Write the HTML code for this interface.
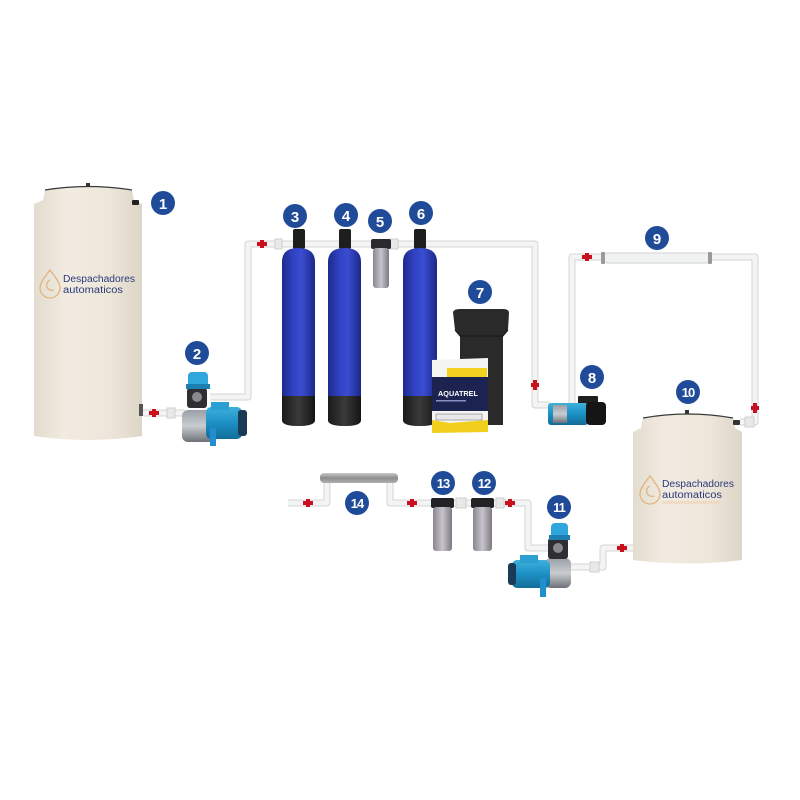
<!DOCTYPE html>
<html><head><meta charset="utf-8"><style>
html,body{margin:0;padding:0;background:#fff;width:800px;height:800px;overflow:hidden}
svg{display:block}
.b{fill:#1f4b98}
.n{fill:#fff;font-family:"Liberation Sans",sans-serif;font-weight:bold;font-size:15px;text-anchor:middle}
.logo{font-family:"Liberation Sans",sans-serif;fill:#2b3a78;font-size:10px}
</style></head><body>
<svg width="800" height="800" viewBox="0 0 800 800" xmlns="http://www.w3.org/2000/svg">
<defs>
<linearGradient id="tank" x1="0" x2="1" y1="0" y2="0">
<stop offset="0" stop-color="#e3dccf"/><stop offset="0.3" stop-color="#f1ebe1"/><stop offset="0.7" stop-color="#ede6da"/><stop offset="1" stop-color="#ddd5c7"/>
</linearGradient>
<linearGradient id="blue" x1="0" x2="1" y1="0" y2="0">
<stop offset="0" stop-color="#1d2a8c"/><stop offset="0.35" stop-color="#3143c4"/><stop offset="0.6" stop-color="#3a4dd0"/><stop offset="1" stop-color="#1b2787"/>
</linearGradient>
<linearGradient id="blk" x1="0" x2="1" y1="0" y2="0">
<stop offset="0" stop-color="#1a1a1a"/><stop offset="0.5" stop-color="#3a3a3a"/><stop offset="1" stop-color="#151515"/>
</linearGradient>
<linearGradient id="pb" x1="0" x2="0" y1="0" y2="1">
<stop offset="0" stop-color="#3fb0dc"/><stop offset="0.5" stop-color="#1c8fc4"/><stop offset="1" stop-color="#136d98"/>
</linearGradient>
<linearGradient id="gr" x1="0" x2="0" y1="0" y2="1">
<stop offset="0" stop-color="#9aa0a6"/><stop offset="0.5" stop-color="#c9cdd1"/><stop offset="1" stop-color="#6d7278"/>
</linearGradient>
<linearGradient id="flt" x1="0" x2="1" y1="0" y2="0">
<stop offset="0" stop-color="#8a8690"/><stop offset="0.5" stop-color="#c8c4cc"/><stop offset="1" stop-color="#7d7982"/>
</linearGradient>
<linearGradient id="uv" x1="0" x2="0" y1="0" y2="1">
<stop offset="0" stop-color="#c9c9c9"/><stop offset="0.5" stop-color="#8d8d8d"/><stop offset="1" stop-color="#b0b0b0"/>
</linearGradient>
</defs>

<!-- PIPES -->
<g fill="none" stroke-linejoin="round" stroke-linecap="butt">
<g stroke="#d4d4d4" stroke-width="7">
<path d="M143 413 H185"/>
<path d="M210 397 H248 V244 H535 V405 H550"/>
<path d="M572 403 V257 H755 V422 H740"/>
<path d="M633 548 H603 V567 H570"/>
<path d="M550 548 H528 V503 H390 V482 M327 482 V503 H288"/>
</g>
<g stroke="#f4f4f4" stroke-width="5">
<path d="M143 413 H185"/>
<path d="M210 397 H248 V244 H535 V405 H550"/>
<path d="M572 403 V257 H755 V422 H740"/>
<path d="M633 548 H603 V567 H570"/>
<path d="M550 548 H528 V503 H390 V482 M327 482 V503 H288"/>
</g>
</g>
<!-- valves -->
<g fill="#c8101e">
<rect x="149" y="411" width="10" height="4"/><rect x="152" y="409" width="4" height="8"/>
<rect x="257" y="242" width="10" height="4"/><rect x="260" y="240" width="4" height="8"/>
<rect x="533" y="380" width="4" height="10"/><rect x="531" y="383" width="8" height="4"/>
<rect x="582" y="255" width="10" height="4"/><rect x="585" y="253" width="4" height="8"/>
<rect x="753" y="403" width="4" height="10"/><rect x="751" y="406" width="8" height="4"/>
<rect x="617" y="546" width="10" height="4"/><rect x="620" y="544" width="4" height="8"/>
<rect x="303" y="501" width="10" height="4"/><rect x="306" y="499" width="4" height="8"/>
<rect x="407" y="501" width="10" height="4"/><rect x="410" y="499" width="4" height="8"/>
<rect x="505" y="501" width="10" height="4"/><rect x="508" y="499" width="4" height="8"/>
</g>
<!-- fittings -->
<g fill="#e8e8e8" stroke="#c8c8c8" stroke-width="0.8">
<rect x="167" y="408" width="8" height="10"/>
<rect x="275" y="239" width="7" height="10"/>
<rect x="390" y="239" width="8" height="10"/>
<rect x="456" y="498" width="10" height="10"/>
<rect x="496" y="498" width="8" height="10"/>
<rect x="590" y="562" width="9" height="10"/>
<rect x="745" y="417" width="9" height="10"/>
</g>

<!-- TANK 1 -->
<path d="M45 190 Q88 183 132 190 L134 200 L142 204 L142 436 Q88 444 34 436 L34 204 L43 200 Z" fill="url(#tank)"/>
<path d="M45 190 Q88 183 132 190" stroke="#3a3a3a" stroke-width="1.2" fill="none"/>
<rect x="86" y="183" width="4" height="4" fill="#333"/>
<rect x="132" y="200" width="7" height="5" rx="1" fill="#222"/>
<rect x="139" y="404" width="4" height="12" fill="#555"/>
<g transform="translate(40,268)">
<path d="M10 2 C4 10 0 15 0 20 a10 10 0 0 0 20 0 C20 15 16 10 10 2 Z" fill="none" stroke="#e4b37c" stroke-width="1.3"/>
<path d="M10 12 a5 5 0 0 0 4 10" fill="none" stroke="#e4b37c" stroke-width="1.2"/>
</g>
<text class="logo" x="63" y="282" textLength="72" lengthAdjust="spacingAndGlyphs">Despachadores</text>
<text class="logo" x="63" y="293" textLength="60" lengthAdjust="spacingAndGlyphs">automaticos</text>

<!-- PUMP 2 -->
<rect x="182" y="410" width="34" height="32" rx="6" fill="url(#gr)"/>
<rect x="206" y="407" width="36" height="32" rx="5" fill="url(#pb)"/>
<rect x="238" y="410" width="9" height="26" rx="3" fill="#1b3a55"/>
<rect x="211" y="402" width="18" height="8" fill="#2b9ed2"/>
<rect x="210" y="428" width="6" height="18" fill="#1f8fcf"/>
<rect x="187" y="388" width="20" height="20" rx="3" fill="#2f2f33"/>
<circle cx="197" cy="397" r="5" fill="#8a8a8e"/>
<rect x="188" y="372" width="20" height="17" rx="4" fill="#2fa6dc"/>
<rect x="186" y="384" width="24" height="5" fill="#1b7fb0"/>

<!-- TANKS 3,4,6 -->
<g>
<rect x="293" y="229" width="12" height="20" rx="2" fill="#1c1f1c"/>
<path d="M282 262 Q282 248 298 248 Q315 248 315 262 V420 Q315 426 298 426 Q282 426 282 420 Z" fill="url(#blue)"/>
<path d="M282 396 H315 V420 Q315 426 298 426 Q282 426 282 420 Z" fill="url(#blk)"/>
<rect x="339" y="229" width="12" height="20" rx="2" fill="#1c1f1c"/>
<path d="M328 262 Q328 248 345 248 Q361 248 361 262 V420 Q361 426 345 426 Q328 426 328 420 Z" fill="url(#blue)"/>
<path d="M328 396 H361 V420 Q361 426 345 426 Q328 426 328 420 Z" fill="url(#blk)"/>
<rect x="414" y="229" width="12" height="20" rx="2" fill="#1c1f1c"/>
<path d="M403 262 Q403 248 420 248 Q437 248 437 262 V420 Q437 426 420 426 Q403 426 403 420 Z" fill="url(#blue)"/>
<path d="M403 396 H437 V420 Q437 426 420 426 Q403 426 403 420 Z" fill="url(#blk)"/>
</g>
<!-- FILTER 5 -->
<rect x="371" y="239" width="20" height="10" rx="2" fill="#2a2a2e"/>
<rect x="373" y="248" width="16" height="40" rx="3" fill="url(#flt)"/>

<!-- 7 brine tank + bag -->
<path d="M453 312 Q454 309 460 309 H503 Q509 309 509 313 L508 330 L503 336 V425 H460 V336 L455 330 Z" fill="#2a2a2a"/>
<path d="M455 330 L460 336 H503 L508 330" fill="none" stroke="#161616" stroke-width="1"/>
<g>
<path d="M432 360 L488 358 L488 432 L432 433 Z" fill="#f4f4f2"/>
<rect x="447" y="368" width="40" height="9" fill="#f3d21f"/>
<rect x="432" y="377" width="56" height="34" fill="#1d2350"/>
<text x="438" y="396" font-family="Liberation Sans,sans-serif" font-size="7" fill="#fff" font-weight="bold" textLength="40" lengthAdjust="spacingAndGlyphs">AQUATREL</text>
<rect x="436" y="400" width="30" height="1.5" fill="#8891c6"/>
<rect x="436" y="414" width="46" height="6" fill="#e8e8e8" stroke="#666" stroke-width="0.5"/>
<path d="M432 420 L450 423 L488 420 L488 432 L432 433 Z" fill="#f0d01c"/>
</g>

<!-- PUMP 8 -->
<rect x="578" y="396" width="20" height="9" rx="1" fill="#1f1f1f"/>
<rect x="548" y="403" width="40" height="22" rx="3" fill="url(#pb)"/>
<rect x="553" y="405" width="14" height="18" fill="url(#gr)"/>
<rect x="586" y="402" width="20" height="23" rx="4" fill="#151515"/>

<!-- UV 9 -->
<rect x="603" y="253" width="107" height="10" rx="4" fill="#f1f3f3" stroke="#cfd3d3" stroke-width="1"/>
<rect x="601" y="252" width="4" height="12" rx="1" fill="#9a9a9a"/>
<rect x="708" y="252" width="4" height="12" rx="1" fill="#9a9a9a"/>

<!-- TANK 10 -->
<path d="M643 418 Q688 410 733 418 L735 428 L742 432 L742 560 Q688 567 633 560 L633 432 L641 428 Z" fill="url(#tank)"/>
<path d="M643 418 Q688 410 733 418" stroke="#3a3a3a" stroke-width="1.2" fill="none"/>
<rect x="685" y="410" width="4" height="4" fill="#333"/>
<rect x="733" y="420" width="7" height="5" rx="1" fill="#333"/>
<g transform="translate(640,474)">
<path d="M10 2 C4 10 0 15 0 20 a10 10 0 0 0 20 0 C20 15 16 10 10 2 Z" fill="none" stroke="#e4b37c" stroke-width="1.3"/>
<path d="M10 12 a5 5 0 0 0 4 10" fill="none" stroke="#e4b37c" stroke-width="1.2"/>
</g>
<text class="logo" x="662" y="487" textLength="72" lengthAdjust="spacingAndGlyphs">Despachadores</text>
<text class="logo" x="662" y="498" textLength="60" lengthAdjust="spacingAndGlyphs">automaticos</text>
<rect x="662" y="501" width="58" height="3" fill="#f0d6bc" opacity="0.7"/>

<!-- UV 14 -->
<rect x="320" y="473" width="78" height="10" rx="4" fill="url(#uv)"/>
<!-- FILTERS 13, 12 -->
<rect x="431" y="498" width="23" height="10" rx="2" fill="#232326"/>
<rect x="433" y="507" width="19" height="44" rx="3" fill="url(#flt)"/>
<rect x="471" y="498" width="23" height="10" rx="2" fill="#232326"/>
<rect x="473" y="507" width="19" height="44" rx="3" fill="url(#flt)"/>

<!-- PUMP 11 -->
<rect x="545" y="558" width="26" height="30" rx="6" fill="url(#gr)"/>
<rect x="512" y="560" width="38" height="28" rx="5" fill="url(#pb)"/>
<rect x="508" y="563" width="8" height="22" rx="3" fill="#1b3a55"/>
<rect x="520" y="555" width="18" height="8" fill="#2b9ed2"/>
<rect x="540" y="578" width="6" height="19" fill="#1f8fcf"/>
<rect x="548" y="538" width="20" height="21" rx="3" fill="#2f2f33"/>
<circle cx="558" cy="548" r="5" fill="#8a8a8e"/>
<rect x="551" y="523" width="17" height="16" rx="4" fill="#2fa6dc"/>
<rect x="549" y="535" width="21" height="5" fill="#1b7fb0"/>

<!-- BADGES -->
<g>
<circle class="b" cx="163" cy="203" r="12"/><text class="n" x="163" y="209">1</text>
<circle class="b" cx="197" cy="353" r="12"/><text class="n" x="197" y="359">2</text>
<circle class="b" cx="295" cy="216" r="12"/><text class="n" x="295" y="222">3</text>
<circle class="b" cx="346" cy="215" r="12"/><text class="n" x="346" y="221">4</text>
<circle class="b" cx="380" cy="221" r="12"/><text class="n" x="380" y="227">5</text>
<circle class="b" cx="421" cy="213" r="12"/><text class="n" x="421" y="219">6</text>
<circle class="b" cx="480" cy="292" r="12"/><text class="n" x="480" y="298">7</text>
<circle class="b" cx="592" cy="377" r="12"/><text class="n" x="592" y="383">8</text>
<circle class="b" cx="657" cy="238" r="12"/><text class="n" x="657" y="244">9</text>
<circle class="b" cx="688" cy="392" r="12"/><text class="n" x="688" y="397" style="font-size:13px;letter-spacing:-1px">10</text>
<circle class="b" cx="559" cy="507" r="12"/><text class="n" x="559" y="512" style="font-size:13px;letter-spacing:-1px">11</text>
<circle class="b" cx="484" cy="483" r="12"/><text class="n" x="484" y="488" style="font-size:13px;letter-spacing:-1px">12</text>
<circle class="b" cx="443" cy="483" r="12"/><text class="n" x="443" y="488" style="font-size:13px;letter-spacing:-1px">13</text>
<circle class="b" cx="357" cy="503" r="12"/><text class="n" x="357" y="508" style="font-size:13px;letter-spacing:-1px">14</text>
</g>
</svg>
</body></html>
